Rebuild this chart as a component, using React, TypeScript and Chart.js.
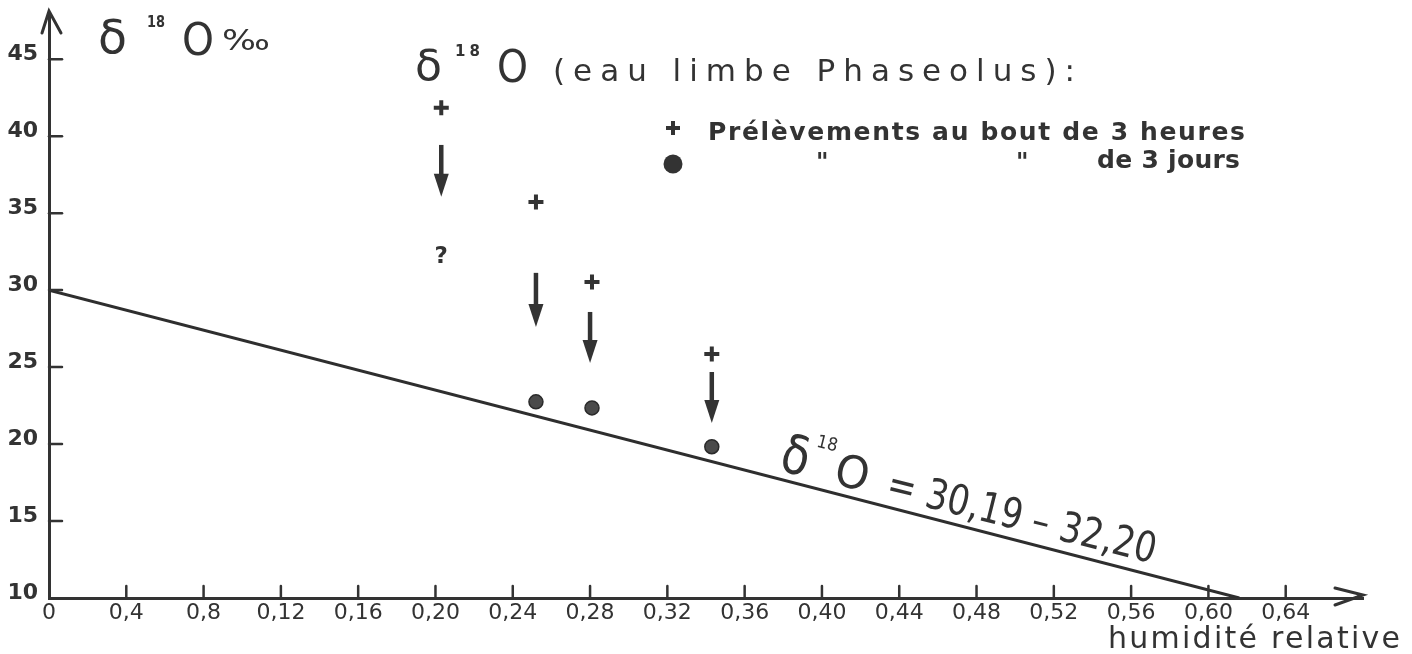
import React, { useEffect, useRef } from 'react';
import { Chart, registerables } from 'chart.js';
Chart.register(...registerables);

// ---- data ----
const xTickValues = [0, 0.04, 0.08, 0.12, 0.16, 0.2, 0.24, 0.28, 0.32, 0.36, 0.4, 0.44, 0.48, 0.52, 0.56, 0.6, 0.64];
const xTickLabels = ['0', '0,4', '0,8', '0,12', '0,16', '0,20', '0,24', '0,28', '0,32', '0,36', '0,40', '0,44', '0,48', '0,52', '0,56', '0,60', '0,64'];
const yTickValues = [10, 15, 20, 25, 30, 35, 40, 45];
const yTickLabels = ['10', '15', '20', '25', '30', '35', '40', '45'];

// prélèvements au bout de 3 heures (+)
const crossX = [0.203, 0.252, 0.281, 0.343];
const crossY = [41.84, 35.73, 30.53, 25.85];
// prélèvements au bout de 3 jours (●)
const dotX = [0.252, 0.281, 0.343];
const dotY = [22.74, 22.35, 19.83];
// arrows (from 3 h toward 3 j)
const arrowX = [0.203, 0.252, 0.28, 0.343];
const arrowFrom = [39.43, 31.12, 28.58, 24.68];
const arrowTo = [36.06, 27.61, 25.27, 21.37];
// regression line δ18O = 30,19 − 32,20 h
const lineX = [0, 0.616];
const lineY = [30.0, 10];
// "?" annotation
const questionX = 0.203;
const questionY = 32.16;

const INK = '#333';
const FONT = 'DejaVu Sans';

function drawFit(ctx: CanvasRenderingContext2D, text: string, x: number, y: number, font: string, width?: number) {
  ctx.save();
  ctx.font = font;
  ctx.textAlign = 'left';
  ctx.textBaseline = 'alphabetic';
  const w = ctx.measureText(text).width;
  const n = Array.from(text).length;
  if (width && w < width && 'letterSpacing' in ctx && n > 1) {
    (ctx as any).letterSpacing = (width - w) / (n - 1) + 'px';
    ctx.fillText(text, x, y);
  } else if (width) {
    ctx.translate(x, y);
    ctx.scale(width / w, 1);
    ctx.fillText(text, 0, 0);
  } else {
    ctx.fillText(text, x, y);
  }
  ctx.restore();
}

const decorPlugin = {
  id: 'decor',
  beforeDraw(chart: any) {
    const ctx = chart.ctx;
    ctx.save();
    ctx.fillStyle = '#fff';
    ctx.fillRect(0, 0, chart.width, chart.height);
    ctx.restore();
  },
  afterDraw(chart: any) {
    const ctx: CanvasRenderingContext2D = chart.ctx;
    const xs = chart.scales.x;
    const ys = chart.scales.y;
    const ca = chart.chartArea;
    ctx.save();
    ctx.strokeStyle = INK;
    ctx.fillStyle = INK;
    ctx.lineCap = 'round';

    // tick marks
    ctx.lineWidth = 2.5;
    xTickValues.forEach((v) => {
      if (v === 0) return;
      const px = xs.getPixelForValue(v);
      ctx.beginPath();
      ctx.moveTo(px, ca.bottom);
      ctx.lineTo(px, ca.bottom - 12);
      ctx.stroke();
    });
    yTickValues.forEach((v) => {
      if (v === 10) return;
      const py = ys.getPixelForValue(v);
      ctx.beginPath();
      ctx.moveTo(ca.left, py);
      ctx.lineTo(ca.left + 13, py);
      ctx.stroke();
    });

    // axis arrowheads
    ctx.lineWidth = 3;
    ctx.beginPath();
    ctx.moveTo(ca.left - 7, ca.top + 20);
    ctx.lineTo(ca.left, ca.top - 2);
    ctx.lineTo(ca.left + 12, ca.top + 20);
    ctx.stroke();
    ctx.beginPath();
    ctx.moveTo(ca.right - 28, ca.bottom - 10);
    ctx.lineTo(ca.right, ca.bottom - 3);
    ctx.lineTo(ca.right - 28, ca.bottom + 7);
    ctx.stroke();

    // arrows 3 h -> 3 j
    arrowX.forEach((ax, i) => {
      const px = xs.getPixelForValue(ax);
      const y0 = ys.getPixelForValue(arrowFrom[i]);
      const y1 = ys.getPixelForValue(arrowTo[i]);
      ctx.lineWidth = 4.5;
      ctx.lineCap = 'butt';
      ctx.beginPath();
      ctx.moveTo(px, y0);
      ctx.lineTo(px, y1 - 18);
      ctx.stroke();
      ctx.beginPath();
      ctx.moveTo(px - 7.5, y1 - 23);
      ctx.lineTo(px + 7.5, y1 - 23);
      ctx.lineTo(px, y1);
      ctx.closePath();
      ctx.fill();
    });

    // "?"
    ctx.font = `bold 23px ${FONT}`;
    ctx.textAlign = 'center';
    ctx.textBaseline = 'middle';
    ctx.fillText('?', xs.getPixelForValue(questionX), ys.getPixelForValue(questionY));

    // y-axis title δ18 O‰
    drawFit(ctx, 'δ', 98, 53, `46px ${FONT}`, 29);
    drawFit(ctx, '18', 147, 27, `bold 16px ${FONT}`, 18);
    drawFit(ctx, 'O', 182, 55, `44px ${FONT}`, 32);
    drawFit(ctx, '‰', 222, 50, `28px ${FONT}`, 48);

    // main title
    drawFit(ctx, 'δ', 415, 80, `42px ${FONT}`, 27);
    drawFit(ctx, '18', 455, 56, `bold 15px ${FONT}`, 25);
    drawFit(ctx, 'O', 497, 82, `44px ${FONT}`, 31);
    drawFit(ctx, '(eau limbe Phaseolus):', 553, 81, `31px ${FONT}`, 522);

    // legend
    ctx.lineWidth = 4;
    ctx.lineCap = 'butt';
    ctx.beginPath();
    ctx.moveTo(666, 128); ctx.lineTo(680, 128);
    ctx.moveTo(673, 121); ctx.lineTo(673, 135);
    ctx.stroke();
    ctx.beginPath();
    ctx.arc(673, 164, 9.5, 0, Math.PI * 2);
    ctx.fill();
    drawFit(ctx, 'Prélèvements au bout de 3 heures', 708, 140, `bold 25px ${FONT}`, 537);
    drawFit(ctx, '"', 816, 170, `bold 24px ${FONT}`);
    drawFit(ctx, '"', 1016, 170, `bold 24px ${FONT}`);
    drawFit(ctx, 'de 3 jours', 1097, 168, `bold 25px ${FONT}`, 143);

    // x-axis title
    drawFit(ctx, 'humidité relative', 1108, 648, `30px ${FONT}`, 292);

    // equation along the line
    ctx.save();
    ctx.translate(778, 470);
    ctx.rotate((14 * Math.PI) / 180);
    drawFit(ctx, 'δ', 0, 0, `54px ${FONT}`, 28);
    drawFit(ctx, '18', 31, -32, `18px ${FONT}`, 21);
    drawFit(ctx, 'O', 56, 0, `45px ${FONT}`, 34);
    drawFit(ctx, '= 30,19 – 32,20', 110, 0, `42px ${FONT}`, 276);
    ctx.restore();

    ctx.restore();
  },
};

export default function App() {
  const ref = useRef<HTMLCanvasElement>(null);
  useEffect(() => {
    const chart = new Chart(ref.current as HTMLCanvasElement, {
      type: 'scatter',
      data: {
        datasets: [
          {
            label: 'δ18O = 30,19 − 32,20 h',
            data: lineX.map((x, i) => ({ x, y: lineY[i] })),
            showLine: true,
            borderColor: '#2e2e2e',
            borderWidth: 3,
            pointRadius: 0,
          },
          {
            label: 'Prélèvements au bout de 3 heures',
            data: crossX.map((x, i) => ({ x, y: crossY[i] })),
            pointStyle: 'cross',
            pointRadius: 7.5,
            borderWidth: 4,
            borderColor: INK,
            backgroundColor: INK,
          },
          {
            label: 'Prélèvements au bout de 3 jours',
            data: dotX.map((x, i) => ({ x, y: dotY[i] })),
            pointStyle: 'circle',
            pointRadius: 7,
            borderWidth: 1.5,
            borderColor: '#2a2a2a',
            backgroundColor: '#4a4a4a',
          },
        ],
      },
      options: {
        responsive: false,
        animation: false,
        layout: { padding: { left: 0, right: 49, top: 13, bottom: 0 } },
        plugins: { legend: { display: false }, tooltip: { enabled: false } },
        scales: {
          x: {
            type: 'linear',
            min: 0,
            max: 0.68,
            afterBuildTicks: (s: any) => {
              s.ticks = xTickValues.map((v) => ({ value: v }));
            },
            afterFit: (s: any) => {
              s.height = 56;
              s.paddingLeft = 0;
              s.paddingRight = 0;
            },
            grid: { display: false, drawTicks: false },
            border: { display: true, color: INK, width: 3 },
            ticks: {
              autoSkip: false,
              maxRotation: 0,
              minRotation: 0,
              padding: 2,
              color: INK,
              font: { family: FONT, size: 22 },
              callback: (_v: any, i: number) => xTickLabels[i] ?? '',
            },
          },
          y: {
            type: 'linear',
            min: 10,
            max: 48,
            afterBuildTicks: (s: any) => {
              s.ticks = yTickValues.map((v) => ({ value: v }));
            },
            afterFit: (s: any) => {
              s.width = 49;
              s.paddingTop = 0;
              s.paddingBottom = 0;
            },
            grid: { display: false, drawTicks: false },
            border: { display: true, color: INK, width: 3 },
            ticks: {
              autoSkip: false,
              padding: 11,
              labelOffset: -5,
              color: INK,
              font: { family: FONT, size: 22, weight: 'bold' },
              callback: (_v: any, i: number) => yTickLabels[i] ?? '',
            },
          },
        },
      },
      plugins: [decorPlugin],
    } as any);
    return () => chart.destroy();
  }, []);
  return (
    <div style={{ position: 'fixed', left: 0, top: 0, width: 1412, height: 654, background: '#fff' }}>
      <canvas ref={ref} width={1412} height={654} style={{ display: 'block' }} />
    </div>
  );
}
